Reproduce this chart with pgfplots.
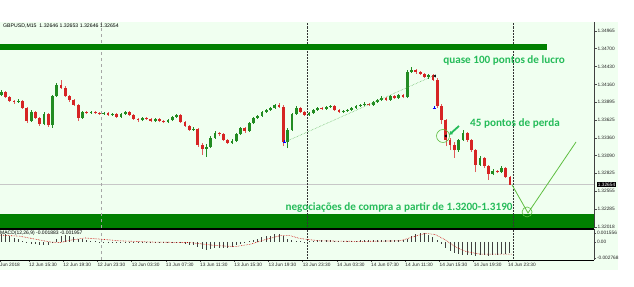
\documentclass[border=0pt]{standalone}
\usepackage{pgfplots}
\pgfplotsset{compat=1.18}
\usepackage{pgfplotstable}
\usetikzlibrary{arrows.meta}
\usepackage{fontspec}
\setmainfont{Liberation Sans}
\newfontfamily\carlito{Carlito}
\definecolor{bg}{RGB}{240,255,240}
\definecolor{dkgreen}{RGB}{0,128,0}
\definecolor{up}{RGB}{34,140,34}
\definecolor{down}{RGB}{214,36,36}
\definecolor{note}{RGB}{38,188,90}
\definecolor{vline}{RGB}{95,190,65}
\newcommand{\tickfont}{\fontsize{4.8}{5}\selectfont}

\pgfplotstableread{
t o h l c
12.25 1.34002 1.34078 1.33987 1.34048
12.75 1.34048 1.34063 1.33957 1.33972
13.25 1.33972 1.33987 1.33897 1.33912
13.75 1.33912 1.33927 1.33867 1.33897
14.25 1.33897 1.33942 1.33882 1.33912
14.75 1.33912 1.33927 1.33792 1.33807
15.25 1.33807 1.33822 1.33581 1.33611
15.75 1.33611 1.33777 1.33596 1.33747
16.25 1.33747 1.33762 1.33642 1.33657
16.75 1.33657 1.33672 1.33536 1.33566
17.25 1.33566 1.33747 1.33551 1.33717
17.75 1.33717 1.33732 1.33521 1.33551
18.25 1.33551 1.34002 1.33506 1.33987
18.75 1.33987 1.34183 1.33972 1.34153
19.25 1.34153 1.34228 1.34093 1.34108
19.75 1.34108 1.34138 1.33972 1.33987
20.25 1.33987 1.34002 1.33897 1.33927
20.75 1.33927 1.33942 1.33837 1.33852
21.25 1.33852 1.33867 1.33611 1.33657
21.75 1.33657 1.33762 1.33642 1.33747
22.25 1.33747 1.33762 1.33717 1.33732
22.75 1.33732 1.33762 1.33717 1.33747
23.25 1.33747 1.33762 1.33717 1.33732
23.75 1.33732 1.33747 1.33702 1.33717
24.25 1.33717 1.33747 1.33702 1.33732
24.75 1.33732 1.33747 1.33687 1.33702
25.25 1.33702 1.33732 1.33687 1.33717
25.75 1.33717 1.33732 1.33657 1.33672
26.25 1.33672 1.33732 1.33657 1.33717
26.75 1.33717 1.33762 1.33702 1.33747
27.25 1.33747 1.33762 1.33687 1.33702
27.75 1.33702 1.33717 1.33627 1.33642
28.25 1.33642 1.33657 1.33596 1.33627
28.75 1.33627 1.33672 1.33611 1.33657
29.25 1.33657 1.33672 1.33627 1.33642
29.75 1.33642 1.33657 1.33596 1.33611
30.25 1.33611 1.33657 1.33596 1.33642
30.75 1.33642 1.33657 1.33596 1.33611
31.25 1.33611 1.33627 1.33581 1.33596
31.75 1.33596 1.33642 1.33581 1.33627
32.25 1.33627 1.33687 1.33611 1.33672
32.75 1.33672 1.33717 1.33657 1.33702
33.25 1.33702 1.33717 1.33581 1.33596
33.75 1.33596 1.33611 1.33521 1.33536
34.25 1.33536 1.33551 1.33461 1.33476
34.75 1.33476 1.33521 1.33461 1.33491
35.25 1.33491 1.33506 1.33220 1.33250
35.75 1.33250 1.33281 1.33100 1.33190
36.25 1.33190 1.33266 1.33070 1.33220
36.75 1.33220 1.33386 1.33205 1.33356
37.25 1.33356 1.33461 1.33341 1.33431
37.75 1.33431 1.33446 1.33386 1.33416
38.25 1.33416 1.33431 1.33311 1.33326
38.75 1.33326 1.33341 1.33266 1.33281
39.25 1.33281 1.33341 1.33266 1.33311
39.75 1.33311 1.33431 1.33296 1.33416
40.25 1.33416 1.33521 1.33401 1.33506
40.75 1.33506 1.33521 1.33431 1.33461
41.25 1.33461 1.33596 1.33446 1.33581
41.75 1.33581 1.33672 1.33566 1.33657
42.25 1.33657 1.33702 1.33642 1.33687
42.75 1.33687 1.33762 1.33672 1.33747
43.25 1.33747 1.33792 1.33732 1.33777
43.75 1.33777 1.33822 1.33762 1.33807
44.25 1.33807 1.33867 1.33792 1.33852
44.75 1.33852 1.33882 1.33807 1.33822
45.25 1.33822 1.33852 1.33235 1.33296
45.75 1.33296 1.33506 1.33205 1.33476
46.25 1.33476 1.33732 1.33461 1.33717
46.75 1.33717 1.33837 1.33702 1.33807
47.25 1.33807 1.33822 1.33732 1.33747
47.75 1.33747 1.33762 1.33687 1.33702
48.25 1.33702 1.33747 1.33687 1.33732
48.75 1.33732 1.33792 1.33717 1.33777
49.25 1.33777 1.33822 1.33762 1.33807
49.75 1.33807 1.33822 1.33777 1.33792
50.25 1.33792 1.33837 1.33777 1.33822
50.75 1.33822 1.33852 1.33807 1.33837
51.25 1.33837 1.33852 1.33762 1.33777
51.75 1.33777 1.33792 1.33732 1.33747
52.25 1.33747 1.33777 1.33732 1.33762
52.75 1.33762 1.33792 1.33747 1.33777
53.25 1.33777 1.33822 1.33762 1.33807
53.75 1.33807 1.33852 1.33792 1.33837
54.25 1.33837 1.33867 1.33822 1.33852
54.75 1.33852 1.33897 1.33837 1.33867
55.25 1.33867 1.33882 1.33837 1.33852
55.75 1.33852 1.33912 1.33837 1.33897
56.25 1.33897 1.33942 1.33882 1.33927
56.75 1.33927 1.33987 1.33912 1.33957
57.25 1.33957 1.33972 1.33912 1.33927
57.75 1.33927 1.34002 1.33912 1.33987
58.25 1.33987 1.34002 1.33942 1.33957
58.75 1.33957 1.34017 1.33942 1.34002
59.25 1.34002 1.34017 1.33957 1.33972
59.75 1.33972 1.34378 1.33957 1.34348
60.25 1.34348 1.34424 1.34333 1.34378
60.75 1.34378 1.34393 1.34318 1.34348
61.25 1.34348 1.34363 1.34303 1.34318
61.75 1.34318 1.34333 1.34258 1.34273
62.25 1.34273 1.34318 1.34243 1.34303
62.75 1.34303 1.34318 1.34213 1.34228
63.25 1.34228 1.34258 1.33807 1.33837
63.75 1.33837 1.33867 1.33566 1.33627
64.25 1.33627 1.33642 1.33235 1.33326
64.75 1.33326 1.33356 1.33175 1.33250
65.25 1.33250 1.33296 1.33055 1.33175
65.75 1.33175 1.33341 1.33145 1.33326
66.25 1.33326 1.33476 1.33311 1.33431
66.75 1.33431 1.33446 1.33296 1.33326
67.25 1.33326 1.33341 1.33145 1.33175
67.75 1.33175 1.33190 1.32844 1.32950
68.25 1.32950 1.33085 1.32935 1.33055
68.75 1.33055 1.33070 1.32904 1.32935
69.25 1.32935 1.32950 1.32724 1.32814
69.75 1.32814 1.32889 1.32799 1.32859
70.25 1.32859 1.32874 1.32829 1.32844
70.75 1.32844 1.32935 1.32829 1.32904
71.25 1.32904 1.32920 1.32754 1.32769
71.75 1.32769 1.32784 1.32649 1.32654
}\candles

\pgfplotstableread{
t m
12.25 0.0014
12.75 0.0013
13.25 0.0010
13.75 0.0007
14.25 0.0005
14.75 0.0002
15.25 -0.0002
15.75 -0.0003
16.25 -0.0004
16.75 -0.0005
17.25 -0.0005
17.75 -0.0006
18.25 -0.0002
18.75 0.0006
19.25 0.0011
19.75 0.0012
20.25 0.0011
20.75 0.0009
21.25 0.0006
21.75 0.0005
22.25 0.0003
22.75 0.0002
23.25 0.0001
23.75 0.00003
24.25 -0.0001
24.75 -0.0001
25.25 -0.0001
25.75 -0.0002
26.25 -0.0001
26.75 -0.00005
27.25 -0.0001
27.75 -0.0002
28.25 -0.0002
28.75 -0.0002
29.25 -0.0002
29.75 -0.0002
30.25 -0.0002
30.75 -0.0002
31.25 -0.0002
31.75 -0.0002
32.25 -0.0001
32.75 -0.0001
33.25 -0.0002
33.75 -0.0003
34.25 -0.0005
34.75 -0.0006
35.25 -0.0009
35.75 -0.0012
36.25 -0.0013
36.75 -0.0012
37.25 -0.0011
37.75 -0.0010
38.25 -0.0010
38.75 -0.0010
39.25 -0.0009
39.75 -0.0006
40.25 -0.0003
40.75 -0.0001
41.25 0.0002
41.75 0.0004
42.25 0.0006
42.75 0.0008
43.25 0.0010
43.75 0.0011
44.25 0.0013
44.75 0.0014
45.25 0.0010
45.75 0.0006
46.25 0.0004
46.75 0.0002
47.25 0.0001
47.75 0.00003
48.25 0.0001
48.75 0.0002
49.25 0.0003
49.75 0.0003
50.25 0.0003
50.75 0.0003
51.25 0.0002
51.75 0.0001
52.25 0.0001
52.75 0.0002
53.25 0.0002
53.75 0.0002
54.25 0.0003
54.75 0.0003
55.25 0.0003
55.75 0.0003
56.25 0.0003
56.75 0.0003
57.25 0.0003
57.75 0.0003
58.25 0.0003
58.75 0.0003
59.25 0.0003
59.75 0.0006
60.25 0.0010
60.75 0.0014
61.25 0.0016
61.75 0.0015
62.25 0.0012
62.75 0.0009
63.25 0.0003
63.75 -0.0004
64.25 -0.0011
64.75 -0.0016
65.25 -0.0019
65.75 -0.0021
66.25 -0.0022
66.75 -0.0022
67.25 -0.0023
67.75 -0.0024
68.25 -0.0023
68.75 -0.0023
69.25 -0.0024
69.75 -0.0023
70.25 -0.0022
70.75 -0.0021
71.25 -0.0020
71.75 -0.0019
}\macd

\pgfplotsset{
  wick/.style={draw=none, mark=none, forget plot,
    error bars/.cd, y dir=plus, y explicit, error mark=none,
    error bar style={solid, draw=#1, line width=0.6bp}},
  body/.style={draw=none, mark=none, forget plot,
    error bars/.cd, y dir=plus, y explicit, error mark=none,
    error bar style={solid, draw=#1, line width=2.8bp}},
}

\begin{document}
\begin{tikzpicture}
\useasboundingbox (0,0) rectangle (634bp,-287bp);
\fill[white] (0,0) rectangle (634bp,-287bp);
\fill[bg] (0,-22bp) rectangle (618bp,-270bp);

% ---------------- main price panel ----------------
\begin{axis}[
  at={(0bp,-22bp)}, anchor=north west,
  scale only axis, width=594bp, height=206bp,
  xmin=12.11, xmax=81.58, ymin=1.32002, ymax=1.35100,
  clip=false, axis line style={draw=none},
  scaled ticks=false,
  xtick=\empty,
  ytick={1.34965,1.34700,1.34430,1.34160,1.33895,1.33625,1.33360,1.33090,1.32825,1.32555,1.32285,1.32018},
  yticklabels={1.34965,1.34700,1.34430,1.34160,1.33895,1.33625,1.33360,1.33090,1.32825,1.32555,1.32285,1.32018},
  ytick pos=right, yticklabel pos=right,
  tick align=outside, major tick length=2.5bp,
  tick style={black!70, line width=0.4bp},
  yticklabel style={font=\tickfont, anchor=west, inner sep=0.8bp, text=black!85},
]
% bottom green band
\fill[dkgreen] (axis cs:12.11,1.32002) rectangle (axis cs:81.58,1.32213);
% current price line
\addplot[black!22, line width=0.6bp, forget plot] coordinates {(12.11,1.32654) (81.58,1.32654)};
% vertical separators
\addplot[black!35, dashed, line width=0.4bp, forget plot] coordinates {(23.92,1.32002) (23.92,1.35100)};
\addplot[black!80, densely dotted, line width=0.5bp, forget plot] coordinates {(48.02,1.32002) (48.02,1.35100)};
\addplot[black!80, densely dotted, line width=0.5bp, forget plot] coordinates {(72.11,1.32002) (72.11,1.35100)};
% top green band
\fill[dkgreen] (axis cs:12.11,1.34677) rectangle (axis cs:76.09,1.34769);

% candles: wicks
\addplot[wick=up] table[x=t, y expr={\thisrow{c}>=\thisrow{o} ? \thisrow{l} : nan}, y error plus expr={\thisrow{h}-\thisrow{l}}] {\candles};
\addplot[wick=down!75!white] table[x=t, y expr={\thisrow{c}<\thisrow{o} ? \thisrow{l} : nan}, y error plus expr={\thisrow{h}-\thisrow{l}}] {\candles};
% candles: bodies
\addplot[body=up] table[x=t, y expr={\thisrow{c}>=\thisrow{o} ? \thisrow{o} : nan}, y error plus expr={\thisrow{c}-\thisrow{o}}] {\candles};
\addplot[body=down] table[x=t, y expr={\thisrow{c}<\thisrow{o} ? \thisrow{c} : nan}, y error plus expr={\thisrow{o}-\thisrow{c}}] {\candles};

% trade trend line and markers
\addplot[black!45!green!70, densely dotted, line width=0.5bp, forget plot] coordinates {(45.44,1.33296) (62.75,1.34288)};
\addplot[only marks, mark=+, mark size=1.5bp, blue, line width=0.7bp, forget plot] coordinates {(45.33,1.33296) (62.87,1.33807)};
\addplot[only marks, mark=triangle*, mark size=1.3bp, black, mark options={rotate=90}, forget plot] coordinates {(62.99,1.34288) (64.27,1.33386)};

% annotations
\addplot[vline, line width=0.8bp, forget plot] coordinates {(72.0,1.32649) (73.86,1.32228) (79.48,1.33296)};
\addplot[only marks, mark=o, mark size=5bp, vline, line width=0.6bp, forget plot] coordinates {(73.75,1.32243)};
\addplot[only marks, mark=o, mark size=6.5bp, vline, line width=0.6bp, forget plot] coordinates {(63.92,1.33386)};
\draw[-{Latex[length=3.5bp,width=4.5bp]}, note, line width=1.8bp] (axis cs:65.79,1.33536) -- (axis cs:64.62,1.33401);

\node[font=\carlito\bfseries\fontsize{11.2}{13}\selectfont, text=note, inner sep=0] at (axis cs:71.06,1.34529) {quase 100 pontos de lucro};
\node[font=\carlito\bfseries\fontsize{11.2}{13}\selectfont, text=note, inner sep=0] at (axis cs:72.34,1.33581) {45 pontos de perda};
\node[font=\carlito\bfseries\fontsize{11.2}{13}\selectfont, text=note, inner sep=0] at (axis cs:58.78,1.32303) {negociações de compra a partir de 1.3200-1.3190};

% current price box
\node[fill=black, text=white, font=\tickfont, inner sep=0.7bp, anchor=west, xshift=3bp] at (axis cs:81.58,1.32654) {1.32654};
% right axis line
\draw[black!75, line width=0.8bp] (rel axis cs:1,0) -- (rel axis cs:1,1);
\end{axis}

% ---------------- MACD panel ----------------
\begin{axis}[
  at={(0bp,-229bp)}, anchor=north west,
  scale only axis, width=594bp, height=31bp,
  xmin=12.11, xmax=81.58, ymin=-0.003114, ymax=0.002248,
  clip=false, axis line style={draw=none},
  scaled ticks=false,
  xtick={12.11,15.5,19.5,23.5,27.5,31.5,35.5,39.5,43.5,47.5,51.5,55.5,59.5,63.5,67.5,71.5},
  xticklabels={Jun 2018,12 Jun 15:30,12 Jun 19:30,12 Jun 23:30,13 Jun 03:30,13 Jun 07:30,13 Jun 11:30,13 Jun 15:30,13 Jun 19:30,13 Jun 23:30,14 Jun 03:30,14 Jun 07:30,14 Jun 11:30,14 Jun 15:30,14 Jun 19:30,14 Jun 23:30},
  ytick={0.001556,0,-0.002768},
  yticklabels={0.001556,0.00,-0.002768},
  xtick pos=bottom, ytick pos=right, yticklabel pos=right,
  tick align=outside, major tick length=2bp,
  tick style={black!70, line width=0.4bp},
  yticklabel style={font=\tickfont, anchor=west, inner sep=0.8bp, text=black!85},
  xticklabel style={font=\tickfont, anchor=north west, inner sep=0.8bp, xshift=-0.8bp, text=black!85},
]
\addplot[black!35, dashed, line width=0.4bp, forget plot] coordinates {(23.92,-0.003114) (23.92,0.002248)};
\addplot[black!80, densely dotted, line width=0.5bp, forget plot] coordinates {(48.02,-0.003114) (48.02,0.002248)};
\addplot[black!80, densely dotted, line width=0.5bp, forget plot] coordinates {(72.11,-0.003114) (72.11,0.002248)};
\addplot[ycomb, black!75, line width=1.0bp, mark=none] table[x=t, y=m] {\macd};
\addplot[red!80!black, densely dotted, line width=0.6bp, mark=none] coordinates {
(12.11,0.0012) (14.45,0.0010) (16.20,0.0005) (17.96,0.0000) (19.13,-0.0001) (20.30,0.0003)
(22.05,0.0007) (23.81,0.0005) (26.15,0.0002) (29.65,0.0000) (34.33,-0.0001) (37.26,-0.0006)
(39.60,-0.0008) (41.35,-0.0004) (43.10,0.0004) (44.86,0.0011) (46.03,0.0011) (47.20,0.0006)
(49.54,0.0002) (54.21,0.0001) (58.89,0.0002) (60.65,0.0010) (61.82,0.0015) (62.99,0.0013)
(64.16,0.0004) (65.33,-0.0008) (66.50,-0.0016) (68.25,-0.0021) (72.0,-0.0021)};
\draw[black, line width=1.2bp] (rel axis cs:0,1) -- (rel axis cs:1,1);
\draw[black, line width=0.8bp] (rel axis cs:0,0) -- (rel axis cs:1,0);
\draw[black!75, line width=0.8bp] (rel axis cs:1,0) -- (rel axis cs:1,1);
\end{axis}

\node[anchor=west, font=\fontsize{5.2}{6}\selectfont, inner sep=0] at (3bp,-26bp) {GBPUSD,M15\ \ 1.32646 1.32653 1.32646 1.32654};
\node[anchor=north west, font=\fontsize{5}{6}\selectfont, inner sep=0] at (0bp,-230.5bp) {MACD(12,26,9) -0.001883 -0.001957};
\end{tikzpicture}
\end{document}
